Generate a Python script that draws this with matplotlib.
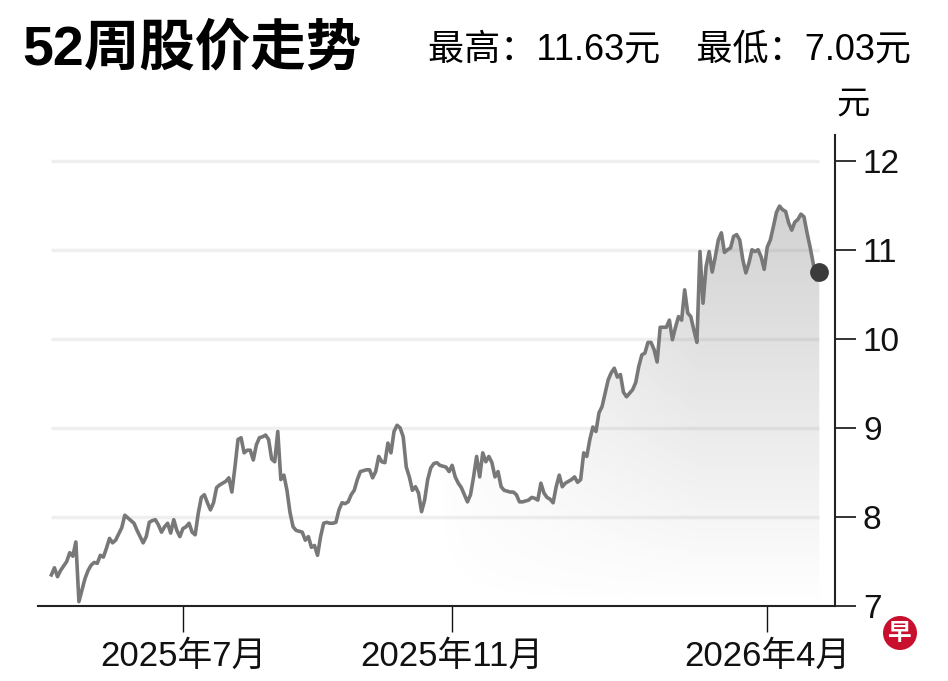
import numpy as np
import pandas as pd
import matplotlib
matplotlib.use('Agg')
from matplotlib import pyplot as plt

plt.rcParams['font.family'] = ['Liberation Sans', 'Noto Sans CJK SC', 'DejaVu Sans']

# exchange holidays inside the 52 week window (no trading)
holidays = ['2025-05-01', '2025-05-12', '2025-10-20', '2025-12-25',
            '2026-01-01', '2026-02-17', '2026-02-18', '2026-04-03']

# daily close
prices = [
    7.35, 7.43, 7.33, 7.40, 7.45, 7.50, 7.60, 7.56, 7.72, 7.05,
    7.18, 7.31, 7.40, 7.46, 7.49, 7.48, 7.57, 7.55, 7.65, 7.76,
    7.71, 7.74, 7.81, 7.88, 8.02, 7.99, 7.96, 7.93, 7.85, 7.78,
    7.71, 7.78, 7.94, 7.96, 7.97, 7.91, 7.83, 7.89, 7.93, 7.82,
    7.97, 7.85, 7.78, 7.87, 7.89, 7.93, 7.83, 7.80, 8.04, 8.22,
    8.25, 8.16, 8.08, 8.16, 8.33, 8.36, 8.38, 8.40, 8.44, 8.28,
    8.56, 8.87, 8.89, 8.72, 8.75, 8.75, 8.64, 8.81, 8.89, 8.90,
    8.92, 8.87, 8.65, 8.62, 8.96, 8.42, 8.47, 8.30, 8.05, 7.89,
    7.85, 7.84, 7.83, 7.74, 7.78, 7.66, 7.68, 7.57, 7.78, 7.93,
    7.94, 7.93, 7.93, 7.94, 8.08, 8.16, 8.15, 8.17, 8.25, 8.30,
    8.42, 8.51, 8.52, 8.53, 8.53, 8.44, 8.51, 8.68, 8.62, 8.61,
    8.83, 8.72, 8.96, 9.03, 9.00, 8.90, 8.56, 8.45, 8.30, 8.34,
    8.27, 8.06, 8.19, 8.42, 8.55, 8.60, 8.61, 8.58, 8.57, 8.56,
    8.51, 8.58, 8.45, 8.38, 8.33, 8.25, 8.17, 8.25, 8.45, 8.68,
    8.45, 8.72, 8.62, 8.68, 8.61, 8.45, 8.51, 8.34, 8.30, 8.29,
    8.28, 8.28, 8.25, 8.17, 8.17, 8.18, 8.19, 8.22, 8.21, 8.19,
    8.38, 8.27, 8.22, 8.20, 8.16, 8.34, 8.47, 8.34, 8.38, 8.40,
    8.42, 8.45, 8.39, 8.42, 8.72, 8.68, 8.87, 9.01, 8.96, 9.17,
    9.24, 9.39, 9.54, 9.62, 9.67, 9.57, 9.60, 9.40, 9.35, 9.39,
    9.43, 9.51, 9.69, 9.82, 9.84, 9.96, 9.96, 9.88, 9.74, 10.13,
    10.13, 10.13, 10.21, 9.99, 10.13, 10.25, 10.21, 10.55, 10.29, 10.25,
    10.10, 9.96, 10.98, 10.40, 10.81, 10.98, 10.75, 10.92, 11.11, 11.19,
    10.97, 11.00, 11.02, 11.15, 11.17, 11.11, 10.89, 10.74, 10.85, 11.00,
    10.98, 11.00, 10.92, 10.78, 11.03, 11.11, 11.26, 11.42, 11.49, 11.45,
    11.43, 11.30, 11.22, 11.31, 11.34, 11.40, 11.37, 11.19, 11.03, 10.85,
    10.66, 10.75,
]

tick_months = ['2025-07-01', '2025-11-01', '2026-04-01']
tick_labels = ['2025年7月', '2025年11月', '2026年4月']
y_ticks = [7, 8, 9, 10, 11, 12]

title = '52周股价走势'
high_low = '最高：11.63元　最低：7.03元'

dates = pd.bdate_range('2025-04-29', periods=len(prices), freq='C', holidays=holidays)
x = np.arange(len(prices))

fig = plt.figure(figsize=(9.48, 6.81), dpi=100)
ax = fig.add_axes([0.040, 0.110, 0.841, 0.692])
x0, x1 = -4.4, 256.2
y0, y1 = 7, 12.29
ax.set_xlim(x0, x1)
ax.set_ylim(y0, y1)

# light grid lines only under the data span
ax.hlines(y_ticks[1:], 0, len(prices) - 1, color='#efefef', lw=2.5, zorder=0)

# grey gradient under the line, strongest at top right
area = ax.fill_between(x, prices, y0, color='none', lw=0)
u = np.linspace(0, 1, 400)
v = np.linspace(0, 1, 200)[:, None]
alpha = 0.38 * v * np.clip((u - 0.5) / 0.33, 0, 1) ** 0.8
rgba = np.zeros((200, 400, 4))
rgba[..., :3] = 0.45
rgba[..., 3] = alpha
img = ax.imshow(rgba, extent=[x0, x1, y0, y1], origin='lower', aspect='auto',
                zorder=1, interpolation='bilinear')
img.set_clip_path(area.get_paths()[0], ax.transData)

ax.plot(x, prices, color='#787878', lw=2.6, zorder=3)
ax.plot(x[-1], prices[-1], 'o', ms=12.5, color='#3b3b3b', zorder=4, clip_on=False)

for s in ['left', 'top']:
    ax.spines[s].set_visible(False)
for s in ['right', 'bottom']:
    ax.spines[s].set_linewidth(1.5)
    ax.spines[s].set_color('#222222')

ax.yaxis.tick_right()
ax.set_yticks(y_ticks)
ax.tick_params(axis='y', length=15, width=1.2, pad=5, labelsize=24, colors='#111111')

tick_pos = [dates.searchsorted(pd.Timestamp(m)) for m in tick_months]
ax.set_xticks(tick_pos)
ax.set_xticklabels(tick_labels)
ax.tick_params(axis='x', length=19, width=1.0, pad=5, labelsize=25, colors='#111111')

fig.text(22 / 948, 1 - 50 / 681, title, fontsize=40, weight='heavy', va='center')
fig.text(428 / 948, 1 - 50 / 681, high_low, fontsize=26, va='center')
fig.text(853 / 948, 1 - 105 / 681, '元', fontsize=24, ha='center', va='center')
fig.text(900 / 948, 1 - 633 / 681, '早', color='white', fontsize=17, weight='bold',
         ha='center', va='center',
         bbox=dict(boxstyle='circle,pad=0.22', fc='#c8102e', ec='none'))

fig.savefig('out.png', dpi=100)
